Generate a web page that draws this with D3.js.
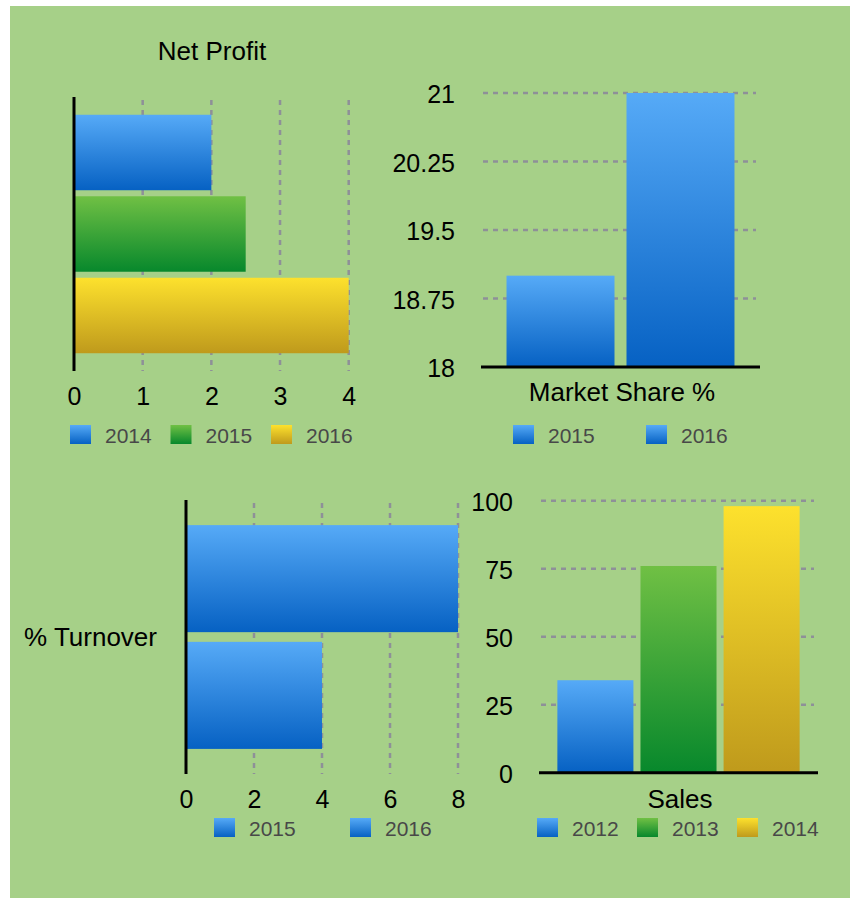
<!DOCTYPE html>
<html>
<head>
<meta charset="utf-8">
<script src="https://cdn.jsdelivr.net/npm/d3@7/dist/d3.min.js"></script>
<style>
  body { margin: 0; background: #fff; }
  text { font-family: "Liberation Sans", Arial, Helvetica, sans-serif; }
</style>
</head>
<body>
<div id="chart"></div>
<script>
// data
const profitYears = ["2014", "2015", "2016"];
const profitValues = [2, 2.5, 4];
const profitTicks = [0, 1, 2, 3, 4];

const shareYears = ["2015", "2016"];
const shareValues = [19, 21];
const shareTicks = [18, 18.75, 19.5, 20.25, 21];

const turnoverYears = ["2015", "2016"];
const turnoverValues = [8, 4];
const turnoverTicks = [0, 2, 4, 6, 8];

const salesYears = ["2012", "2013", "2014"];
const salesValues = [34, 76, 98];
const salesTicks = [0, 25, 50, 75, 100];

const width = 858, height = 900;

const svg = d3.select("#chart").append("svg")
  .attr("width", width)
  .attr("height", height);

// gradients for the bars
const grads = {
  blue: ["#56aaf7", "#0661c3"],
  green: ["#70c044", "#07882c"],
  yellow: ["#fde12d", "#bf9a1c"]
};
const defs = svg.append("defs");
Object.entries(grads).forEach(([name, c]) => {
  const g = defs.append("linearGradient")
    .attr("id", "g-" + name)
    .attr("x1", 0).attr("y1", 0).attr("x2", 0).attr("y2", 1);
  g.append("stop").attr("offset", "0%").attr("stop-color", c[0]);
  g.append("stop").attr("offset", "100%").attr("stop-color", c[1]);
});

svg.append("rect")
  .attr("x", 10).attr("y", 6)
  .attr("width", 840).attr("height", 892)
  .attr("fill", "#a6d088");

const gridStyle = sel => sel
  .attr("stroke", "#8e9098")
  .attr("stroke-width", 2.5)
  .attr("stroke-dasharray", "5,5");

function legend(years, colors, x0, step, y) {
  const g = svg.append("g").attr("class", "legend");
  const item = g.selectAll("g").data(years).enter().append("g")
    .attr("transform", (d, i) => `translate(${x0 + i * step},${y})`);
  item.append("rect")
    .attr("width", 21).attr("height", 19)
    .attr("fill", (d, i) => `url(#g-${colors[i]})`);
  item.append("text")
    .attr("x", 35).attr("y", 18)
    .attr("font-size", 21)
    .attr("fill", "#484848")
    .text(d => d);
}

function title(txt, x, y, anchor) {
  svg.append("text")
    .attr("x", x).attr("y", y)
    .attr("text-anchor", anchor || "middle")
    .attr("font-size", 26)
    .attr("fill", "#000")
    .text(txt);
}

// horizontal bar chart
function hbar(years, values, colors, ticks, box) {
  const x = d3.scaleLinear().domain([ticks[0], ticks[ticks.length - 1]]).range([box.x0, box.x1]);
  const y = d3.scaleBand().domain(years).range([box.y0, box.y1])
    .paddingInner(box.inner).paddingOuter(box.outer);

  svg.append("g").selectAll("line").data(ticks.slice(1)).enter().append("line")
    .attr("x1", d => x(d)).attr("x2", d => x(d))
    .attr("y1", box.y0 + 3).attr("y2", box.y1)
    .call(gridStyle);

  svg.append("g").selectAll("rect").data(values).enter().append("rect")
    .attr("x", x(0))
    .attr("y", (d, i) => y(years[i]))
    .attr("width", d => x(d) - x(0))
    .attr("height", y.bandwidth())
    .attr("fill", (d, i) => `url(#g-${colors[i]})`);

  svg.append("line")
    .attr("x1", x(0)).attr("x2", x(0))
    .attr("y1", box.y0).attr("y2", box.y1)
    .attr("stroke", "#000").attr("stroke-width", 3);

  const ax = svg.append("g")
    .attr("transform", `translate(0,${box.y1})`)
    .call(d3.axisBottom(x).tickValues(ticks).tickSize(0).tickFormat(d3.format("")));
  ax.select(".domain").remove();
  ax.selectAll("text")
    .attr("y", 34).attr("dy", 0)
    .attr("font-size", 25)
    .attr("font-family", "Liberation Sans, Arial, sans-serif")
    .attr("fill", "#000");
}

// vertical bar chart
function vbar(years, values, colors, ticks, box) {
  const y = d3.scaleLinear().domain([ticks[0], ticks[ticks.length - 1]]).range([box.y1, box.y0]);
  const x = d3.scaleBand().domain(years).range([box.x0, box.x1])
    .paddingInner(box.inner).paddingOuter(box.outer);

  svg.append("g").selectAll("line").data(ticks.slice(1)).enter().append("line")
    .attr("x1", box.x0).attr("x2", box.x1 - 2)
    .attr("y1", d => y(d)).attr("y2", d => y(d))
    .call(gridStyle);

  svg.append("g").selectAll("rect").data(values).enter().append("rect")
    .attr("x", (d, i) => x(years[i]))
    .attr("y", d => y(d))
    .attr("width", x.bandwidth())
    .attr("height", d => y(ticks[0]) - y(d))
    .attr("fill", (d, i) => `url(#g-${colors[i]})`);

  svg.append("line")
    .attr("x1", box.x0 - 2).attr("x2", box.x1 + 2)
    .attr("y1", box.y1).attr("y2", box.y1)
    .attr("stroke", "#000").attr("stroke-width", 3);

  const ax = svg.append("g")
    .attr("transform", `translate(${box.x0},0)`)
    .call(d3.axisLeft(y).tickValues(ticks).tickSize(0).tickPadding(box.pad).tickFormat(d3.format("")));
  ax.select(".domain").remove();
  ax.selectAll("text")
    .attr("dy", "0.38em")
    .attr("font-size", 25)
    .attr("font-family", "Liberation Sans, Arial, sans-serif")
    .attr("fill", "#000");
}

// Net Profit
title("Net Profit", 212, 60);
hbar(profitYears, profitValues, ["blue", "green", "yellow"], profitTicks,
  { x0: 74, x1: 348.7, y0: 97, y1: 371, inner: 0.074, outer: 0.218 });
legend(profitYears, ["blue", "green", "yellow"], 70, 100.5, 425);

// Market Share %
vbar(shareYears, shareValues, ["blue", "blue"], shareTicks,
  { x0: 483, x1: 758, y0: 93, y1: 367, inner: 0.1, outer: 0.196, pad: 28 });
title("Market Share %", 622, 401);
legend(shareYears, ["blue", "blue"], 513, 133, 425);

// % Turnover
hbar(turnoverYears, turnoverValues, ["blue", "blue"], turnoverTicks,
  { x0: 186, x1: 458, y0: 500, y1: 774, inner: 0.083, outer: 0.215 });
title("% Turnover", 157, 646, "end");
legend(turnoverYears, ["blue", "blue"], 214, 136, 818);

// Sales
vbar(salesYears, salesValues, ["blue", "green", "yellow"], salesTicks,
  { x0: 541, x1: 816, y0: 500.7, y1: 772.7, inner: 0.085, outer: 0.197, pad: 28 });
title("Sales", 680, 808);
legend(salesYears, ["blue", "green", "yellow"], 537, 100, 818);
</script>
</body>
</html>
